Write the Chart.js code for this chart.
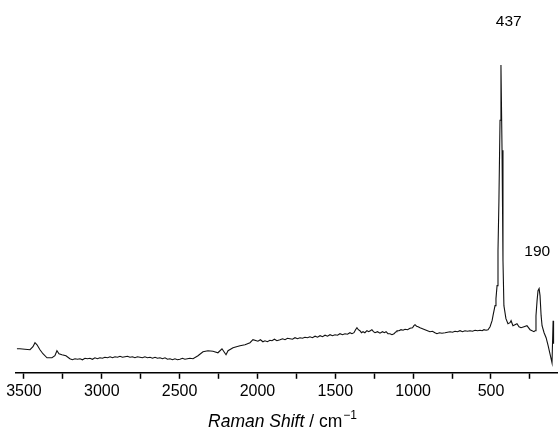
<!DOCTYPE html>
<html>
<head>
<meta charset="utf-8">
<script src="https://cdn.jsdelivr.net/npm/chart.js@4/dist/chart.umd.min.js"></script>
<style>
	html, body { margin: 0; padding: 0; background: #fff; }
</style>
</head>
<body>
<canvas id="myChart" width="558" height="431"></canvas>
<script>
(function(){

	"use strict";

// Spectrum (Raman shift in cm-1, intensity in arbitrary units)
	const ramanShift = [
		3545, 3526, 3494, 3461, 3442, 3429, 3416, 3397, 3378, 3352,
		3320, 3301, 3288, 3275, 3256, 3230,
		3205, 3189, 3172, 3156, 3140, 3124, 3108, 3092, 3076, 3060,
		3044, 3028, 3012, 2996, 2980, 2963, 2947, 2931, 2915, 2899,
		2883, 2867, 2851, 2835, 2819, 2803, 2787, 2771, 2755, 2739,
		2723, 2707, 2690, 2674, 2658, 2642, 2626, 2610, 2594, 2578,
		2562, 2546, 2530, 2514, 2498, 2482, 2466, 2450, 2434, 2414,
		2382, 2350, 2318, 2286, 2254, 2228, 2215, 2202, 2189, 2157,
		2135, 2112, 2080, 2048, 2029,
		1997, 1981, 1965, 1952, 1936, 1920, 1907, 1891, 1875, 1855,
		1839, 1823, 1807, 1791, 1775, 1759, 1743, 1727, 1711, 1695,
		1679, 1663, 1647, 1630, 1614, 1598, 1582, 1566, 1550, 1534,
		1518, 1502, 1486, 1470, 1454, 1438, 1422, 1406, 1393, 1380,
		1370, 1361, 1352, 1342, 1332, 1322, 1310, 1297, 1285, 1275,
		1265, 1255, 1245, 1229, 1213, 1197, 1185, 1174, 1162, 1149,
		1136, 1123, 1110, 1104, 1091, 1078, 1065, 1052, 1036, 1020,
		1004, 995, 988, 978, 968, 956, 940, 924, 908, 892,
		876, 860, 847, 831, 815, 795, 779, 763, 747, 731,
		715, 699, 683, 667, 651, 635, 619, 602, 586, 570,
		557, 545, 532, 519, 506,
		493, 487, 474, 468, 461, 455, 449, 442, 436, 429,
		423, 417, 404, 391, 378, 371, 359, 346, 333, 320,
		307, 288, 269, 249, 224, 217, 211, 204, 198, 191,
		185, 178, 172, 159, 146, 133, 121, 108, 101, 98
	];
	const intensity = [
		24, 24, 23.5, 23, 26, 30, 28, 23, 19, 15,
		15, 17, 22, 19, 18, 17,
		14, 13, 14, 13.5, 14, 13, 14.5, 14, 14.5, 13.5,
		15, 14, 15, 14.5, 15.5, 15, 16, 15, 16, 15.5,
		16.5, 15.5, 16, 16.5, 15.5, 16, 15, 16, 15.5, 15,
		16, 15, 15.5, 14.5, 15.5, 14.5, 15, 14, 15, 13.5,
		14, 13, 14, 13, 13.5, 14.5, 13.5, 14, 14.5, 14,
		17, 21, 22, 21.5, 20, 24, 21, 18, 22, 25,
		26, 27, 28, 30, 33,
		31.5, 33, 31, 32, 31, 32.5, 32, 33.5, 32, 33,
		34, 33, 34.5, 34, 33.5, 35, 34, 35, 34.5, 35.5,
		35, 36, 35, 36.5, 35.5, 37, 36, 37.5, 36.5, 38,
		37, 38, 37.5, 39, 38, 39, 38.5, 40, 39, 40,
		43, 45, 43, 42, 40, 41, 40, 42, 41, 42,
		43, 41, 40, 41, 39.5, 41, 40, 41, 39, 39,
		38, 39, 41, 42, 42, 43, 42.5, 43.5, 43, 44.5,
		45, 47, 48, 46.5, 46, 45, 44, 43, 42, 41,
		41.5, 40, 39, 40, 39.5, 40, 40.5, 41, 40.5, 41.5,
		41, 42, 41, 42, 41.5, 42, 41.5, 42.5, 42, 42.5,
		42, 43, 42.5, 43, 46,
		52, 57, 67, 74, 87, 122, 172, 252, 307, 222,
		112, 67, 54, 49, 50, 52, 47, 48, 49, 46,
		45, 46, 47, 43, 41, 42, 57, 72, 82, 84,
		77, 57, 47, 40, 35, 27, 19, 10, 52, 29
	];

// Peak labels
	const peakLabels = ["437", "190"];
	const peakShifts = [437, 190];

// Axis ticks (every 250, labelled every 500)
	const tickValues = [250, 500, 750, 1000, 1250, 1500, 1750, 2000, 2250, 2500, 2750, 3000, 3250, 3500];
	const labelStep = 500;

	const fontFamily = '"Liberation Sans", Arial, Helvetica, sans-serif';

	const points = [];
	for(let i=0; i<ramanShift.length; i++){
		points.push({x: ramanShift[i], y: intensity[i]});
	}

// Peak numbers and axis title drawn on the canvas
	const textPlugin = {
		id: "textPlugin",
		afterDraw: function(chart){
			const ctx = chart.ctx;
			const xs = chart.scales.x;
			const ys = chart.scales.y;
			ctx.save();
			ctx.fillStyle = "#000";
			ctx.textAlign = "center";
			ctx.textBaseline = "middle";
			ctx.font = "15.5px " + fontFamily;
			// label offsets from the peak top, in pixels
			const offs = [[8, -43], [-2, -37]];
			for(let i=0; i<peakLabels.length; i++){
				let top = 0;
				for(let j=0; j<ramanShift.length; j++){
					if (Math.abs(ramanShift[j] - peakShifts[i]) < 15 && intensity[j] > top) top = intensity[j];
				}
				const px = xs.getPixelForValue(peakShifts[i]) + offs[i][0];
				const py = ys.getPixelForValue(top) + offs[i][1];
				ctx.fillText(peakLabels[i], px, py);
			}

			// axis title: "Raman Shift / cm-1"
			const part1 = "Raman Shift";
			const part2 = " / cm";
			const part3 = "\u22121";
			const f1 = "italic 17.5px " + fontFamily;
			const f2 = "17.5px " + fontFamily;
			const f3 = "12px " + fontFamily;
			ctx.font = f1; const w1 = ctx.measureText(part1).width;
			ctx.font = f2; const w2 = ctx.measureText(part2).width;
			ctx.font = f3; const w3 = ctx.measureText(part3).width;
			const cx = 282;
			let x0 = cx - (w1 + w2 + w3) / 2;
			const base = 427;
			ctx.textAlign = "left";
			ctx.textBaseline = "alphabetic";
			ctx.font = f1; ctx.fillText(part1, x0, base); x0 += w1;
			ctx.font = f2; ctx.fillText(part2, x0, base); x0 += w2;
			ctx.font = f3; ctx.fillText(part3, x0 + 1, base - 8);
			ctx.restore();
		}
	};

	const data = {
		datasets: [{
			label: "spectrum",
			data: points,
			borderColor: "#111",
			borderWidth: 1.1,
			pointRadius: 0,
			tension: 0,
			fill: false
		}]
	};

	const config = {
		type: "line",
		data,
		options: {
			responsive: false,
			animation: false,
			parsing: false,
			layout: { padding: { left: 16, right: 1, top: 10, bottom: 27 } },
			plugins: {
				legend: { display: false },
				tooltip: { enabled: false }
			},
			scales: {
				x: {
					type: "linear",
					reverse: true,
					min: 76,
					max: 3551,
					afterBuildTicks: function(scale){
						scale.ticks = tickValues.map(function(v){ return {value: v}; });
					},
					border: { display: true, color: "#000", width: 1.5 },
					grid: { drawOnChartArea: false, drawTicks: true, tickLength: 6, tickColor: "#000", tickWidth: 1.5 },
					ticks: {
						autoSkip: false,
						maxRotation: 0,
						padding: 3,
						color: "#000",
						font: { size: 16, family: fontFamily },
						callback: function(v){ return v % labelStep === 0 ? String(v) : ""; }
					}
				},
				y: {
					type: "linear",
					display: false,
					min: 0,
					max: 362
				}
			}
		},
		plugins: [textPlugin]
	};

	new Chart(document.getElementById("myChart"), config);

})();
</script>
</body>
</html>
